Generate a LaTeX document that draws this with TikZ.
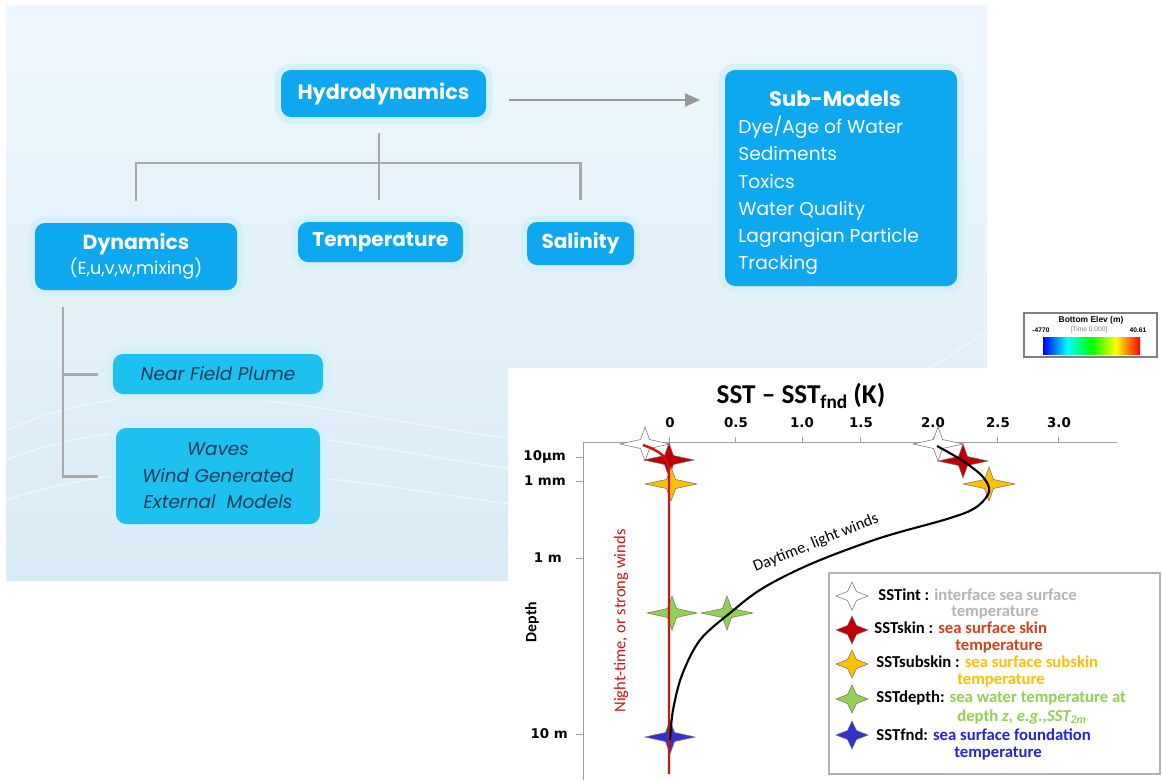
\documentclass[tikz,border=0pt]{standalone}
\usepackage{fontspec}
\setmainfont{Poppins}
\newfontfamily\chartfont{Carlito}
\newfontfamily\tickfont{DejaVu Sans}
\newfontfamily\barfont{Liberation Sans}
\usepackage{tikz}
\usetikzlibrary{arrows.meta,positioning,calc}
\usepackage{xcolor}
\definecolor{boxblue}{HTML}{0EA8F0}
\definecolor{plumecyan}{HTML}{1EC0F0}
\definecolor{halo}{HTML}{D6EFFA}
\definecolor{bgtop}{HTML}{EEF7FD}
\definecolor{bgbot}{HTML}{D9EBF6}
\definecolor{treegray}{HTML}{A8A8A8}
\definecolor{inkblue}{HTML}{1C3D5A}
\definecolor{skinred}{HTML}{C00000}
\definecolor{skintext}{HTML}{D0441C}
\definecolor{subgold}{HTML}{FFC000}
\definecolor{depthgreen}{HTML}{92D050}
\definecolor{fndblue}{HTML}{3333CC}
\definecolor{fndtext}{HTML}{2424D8}
\definecolor{intgray}{HTML}{B4B4B4}
\definecolor{nightred}{HTML}{CC1414}

\pgfdeclarehorizontalshading{elevbar}{100bp}{color(0bp)=(blue); color(25bp)=(blue); color(37.5bp)=(cyan); color(50bp)=(green); color(62.5bp)=(yellow); color(75bp)=(red); color(100bp)=(red)}

% four-pointed marker: position, fill, half width, half height
\newcommand{\sststar}[4]{%
  \draw[draw=black!55, line width=0.3pt, fill=#2, shift={#1}]
    (#3,0) -- (4.5,4.5) -- (0,#4) -- (-4.5,4.5) -- (-#3,0) -- (-4.5,-4.5) -- (0,-#4) -- (4.5,-4.5) -- cycle;}

\begin{document}
\begin{tikzpicture}[x=0.2mm, y=-0.2mm,
  glowbox/.style={rounded corners=2mm, fill=boxblue, text=white, inner sep=0pt,
    preaction={draw=halo, line width=2.6mm}},
  plumebox/.style={glowbox, fill=plumecyan, text=inkblue,
    font=\itshape\fontsize{10.5}{15}\selectfont, align=center},
  treeline/.style={draw=treegray, line width=1.7pt},
  arrowline/.style={draw=gray!80, line width=1.2pt, -{Triangle[length=3mm, width=2.6mm]}},
  axisline/.style={draw=gray!75, line width=0.5pt},
  ticklab/.style={font=\tickfont\bfseries\fontsize{7.6}{9}\selectfont},
  legtext/.style={anchor=west, font=\chartfont\bfseries\fontsize{9.5}{10}\selectfont, inner sep=0pt}]
  \useasboundingbox (0,0) rectangle (1162,780);
  \fill[white] (0,0) rectangle (1162,780);

  % slide background
  \shade[top color=bgtop, bottom color=bgbot] (6,5) rectangle (987,580);
  \draw[white, opacity=0.7, line width=0.5pt] (6,430) .. controls (300,300) and (620,600) .. (987,330);
  \draw[white, opacity=0.7, line width=0.5pt] (6,460) .. controls (320,340) and (640,620) .. (987,380);
  \draw[white, opacity=0.7, line width=0.5pt] (6,500) .. controls (340,390) and (660,640) .. (987,430);

  % model tree
  \node[glowbox, minimum width=41mm, minimum height=9.4mm,
        font=\bfseries\fontsize{11.8}{14}\selectfont] (hydro) at (383.5,93.5) {Hydrodynamics};
  \node[glowbox, minimum width=46.4mm, minimum height=43.2mm] (sub) at (841,178) {};
  \node[text=white, font=\bfseries\fontsize{12}{14}\selectfont] (subtitle) at (835,99) {Sub-Models};
  \node[anchor=north west, align=left, text=white, inner sep=0pt,
        font=\fontsize{10.6}{15.4}\selectfont] (sublist) at (738,116)
        {Dye/Age of Water\\Sediments\\Toxics\\Water Quality\\Lagrangian Particle\\Tracking};

  \node[glowbox, minimum width=40.4mm, minimum height=13.4mm, align=center] (dyn) at (136,256.5)
        {{\bfseries\fontsize{11.6}{14}\selectfont Dynamics}\\[1pt]{\fontsize{10}{12}\selectfont (E,u,v,w,mixing)}};
  \node[glowbox, minimum width=33mm, minimum height=8mm,
        font=\bfseries\fontsize{11.4}{14}\selectfont] (temp) at (380.5,242) {Temperature};
  \node[glowbox, minimum width=21.4mm, minimum height=8.6mm,
        font=\bfseries\fontsize{11.4}{14}\selectfont] (sal) at (580.5,243.5) {Salinity};

  \node[plumebox, minimum width=42mm, minimum height=8mm] (plume) at (218,374) {Near Field Plume};
  \node[plumebox, minimum width=40.8mm, minimum height=19.2mm] (waves) at (218,476)
        {Waves\\Wind Generated\\External\ \ Models};

  \coordinate (fork) at (379,163);
  \coordinate (arrowtip) at (700,100);
  \coordinate (spine) at (63,307);
  \draw[treeline, shorten <=3.2mm] (hydro.south -| fork) -- (fork);
  \draw[treeline, shorten >=4.4mm] (fork) -| (dyn.north);
  \draw[treeline, shorten >=4.4mm] (fork) -- (fork |- temp.north);
  \draw[treeline, shorten >=4.4mm] (fork) -| (sal.north);
  \draw[treeline, shorten >=3mm] (spine) |- (plume.west);
  \draw[treeline, shorten >=3.6mm] (spine) |- (waves.west);
  \draw[arrowline, shorten <=4.6mm] (hydro.east |- arrowtip) -- (arrowtip);

  % colour bar
  \draw[gray, line width=0.8pt, fill=white] (1024,313) rectangle (1157,357);
  \node[font=\barfont\bfseries\fontsize{4.8}{5}\selectfont, inner sep=0pt] (bartitle) at (1091,320) {Bottom Elev (m)};
  \node[font=\barfont\fontsize{3.8}{4}\selectfont, inner sep=0pt] (barmin) at (1041,330) {\textbf{-4770}};
  \node[font=\barfont\fontsize{3.8}{4}\selectfont, inner sep=0pt, text=gray] (bartime) at (1089,330) {[Time 0.000]};
  \node[font=\barfont\fontsize{3.8}{4}\selectfont, inner sep=0pt] (barmax) at (1138,330) {\textbf{40.61}};
  \shade[shading=elevbar] (1043,337) rectangle (1140,354);

  % SST profile
  \fill[white] (508,368) rectangle (1162,780);
  \node[font=\chartfont\bfseries\fontsize{15.5}{17}\selectfont] (title) at (801,396)
        {SST – SST\raisebox{-0.35ex}{\fontsize{11}{11}\selectfont fnd} (K)};
  \draw[axisline] (1117,442) -- (583,442) -- (583,780);
  \draw[axisline] (669,442) -- (669,437) (735,442) -- (735,437) (802,442) -- (802,437)
        (860,442) -- (860,437) (933,442) -- (933,437) (997,442) -- (997,437) (1058,442) -- (1058,437);
  \draw[axisline] (583,457) -- (576,457) (583,481) -- (576,481) (583,558) -- (576,558) (583,734) -- (576,734);
  \node[ticklab] (xa) at (670,423) {0};
  \node[ticklab] (xb) at (736,423) {0.5};
  \node[ticklab] (xc) at (802,423) {1.0};
  \node[ticklab] (xd) at (861,423) {1.5};
  \node[ticklab] (xe) at (933,423) {2.0};
  \node[ticklab] (xf) at (998,423) {2.5};
  \node[ticklab] (xg) at (1059,423) {3.0};
  \node[ticklab, anchor=east] (ya) at (572,457) {10\textmu m};
  \node[ticklab, anchor=east] (yb) at (572,481) {1 mm};
  \node[ticklab, anchor=east] (yc) at (568,558) {1 m};
  \node[ticklab, anchor=east] (yd) at (574,734) {10 m};
  \node[font=\chartfont\bfseries\fontsize{9}{10}\selectfont, rotate=90] (depth) at (532,622) {Depth};
  \node[font=\chartfont\fontsize{9.4}{12}\selectfont, text=nightred, rotate=90] (night) at (621,621) {Night-time, or strong winds};
  \node[font=\chartfont\fontsize{9.2}{11}\selectfont, rotate=22] (day) at (816,543) {Daytime, light winds};

  \sststar{(645,444)}{white}{25}{17}
  \sststar{(669,460)}{skinred}{25}{17}
  \sststar{(671,484)}{subgold}{26}{17}
  \sststar{(938,444)}{white}{25}{17}
  \sststar{(963,461)}{skinred}{25}{17}
  \sststar{(989,484)}{subgold}{26}{17}
  \sststar{(672,613)}{depthgreen}{25}{17}
  \sststar{(727,613)}{depthgreen}{26}{17}
  \sststar{(670,737)}{fndblue}{25}{17}

  \draw[nightred, line width=1.4pt] (643,445) .. controls (660,451) and (669,457) .. (669,472) -- (669,774);
  \draw[black, line width=1.2pt] plot[smooth, tension=0.55] coordinates {(937,446) (963,461) (983,477)
        (989,492) (975,508) (947,519) (880,538) (813,563) (763,588) (730,613) (700,640) (682,675) (673,710) (670,740)};

  % legend
  \node[draw=gray!60, line width=0.7pt, minimum width=66.2mm, minimum height=40.2mm] (legend) at (994.5,673.5) {};
  \sststar{(852,596)}{white}{16}{14}
  \sststar{(852,630)}{skinred}{16}{14}
  \sststar{(852,664)}{subgold}{16}{14}
  \sststar{(852,699)}{depthgreen}{16}{14}
  \sststar{(852,735)}{fndblue}{16}{14}
  \node[legtext] (lint) at (878,595) {SSTint : \textcolor{intgray}{interface sea surface}};
  \node[legtext, text=intgray] (lint2) at (951,613) {temperature};
  \node[legtext] (lskin) at (874,628) {SSTskin : \textcolor{skintext}{sea surface skin}};
  \node[legtext, text=skintext] (lskin2) at (955,647) {temperature};
  \node[legtext] (lsub) at (876,662) {SSTsubskin : \textcolor{subgold}{sea surface subskin}};
  \node[legtext, text=subgold] (lsub2) at (957,681) {temperature};
  \node[legtext] (ldep) at (876,698) {SSTdepth: \textcolor{depthgreen}{sea water temperature at}};
  \node[legtext, text=depthgreen] (ldep2) at (957,717) {depth \textit{z, e.g.,SST\textsubscript{2m}}};
  \node[legtext] (lfnd) at (876,735) {SSTfnd: \textcolor{fndtext}{sea surface foundation}};
  \node[legtext, text=fndtext] (lfnd2) at (954,754) {temperature};
\end{tikzpicture}
\end{document}
